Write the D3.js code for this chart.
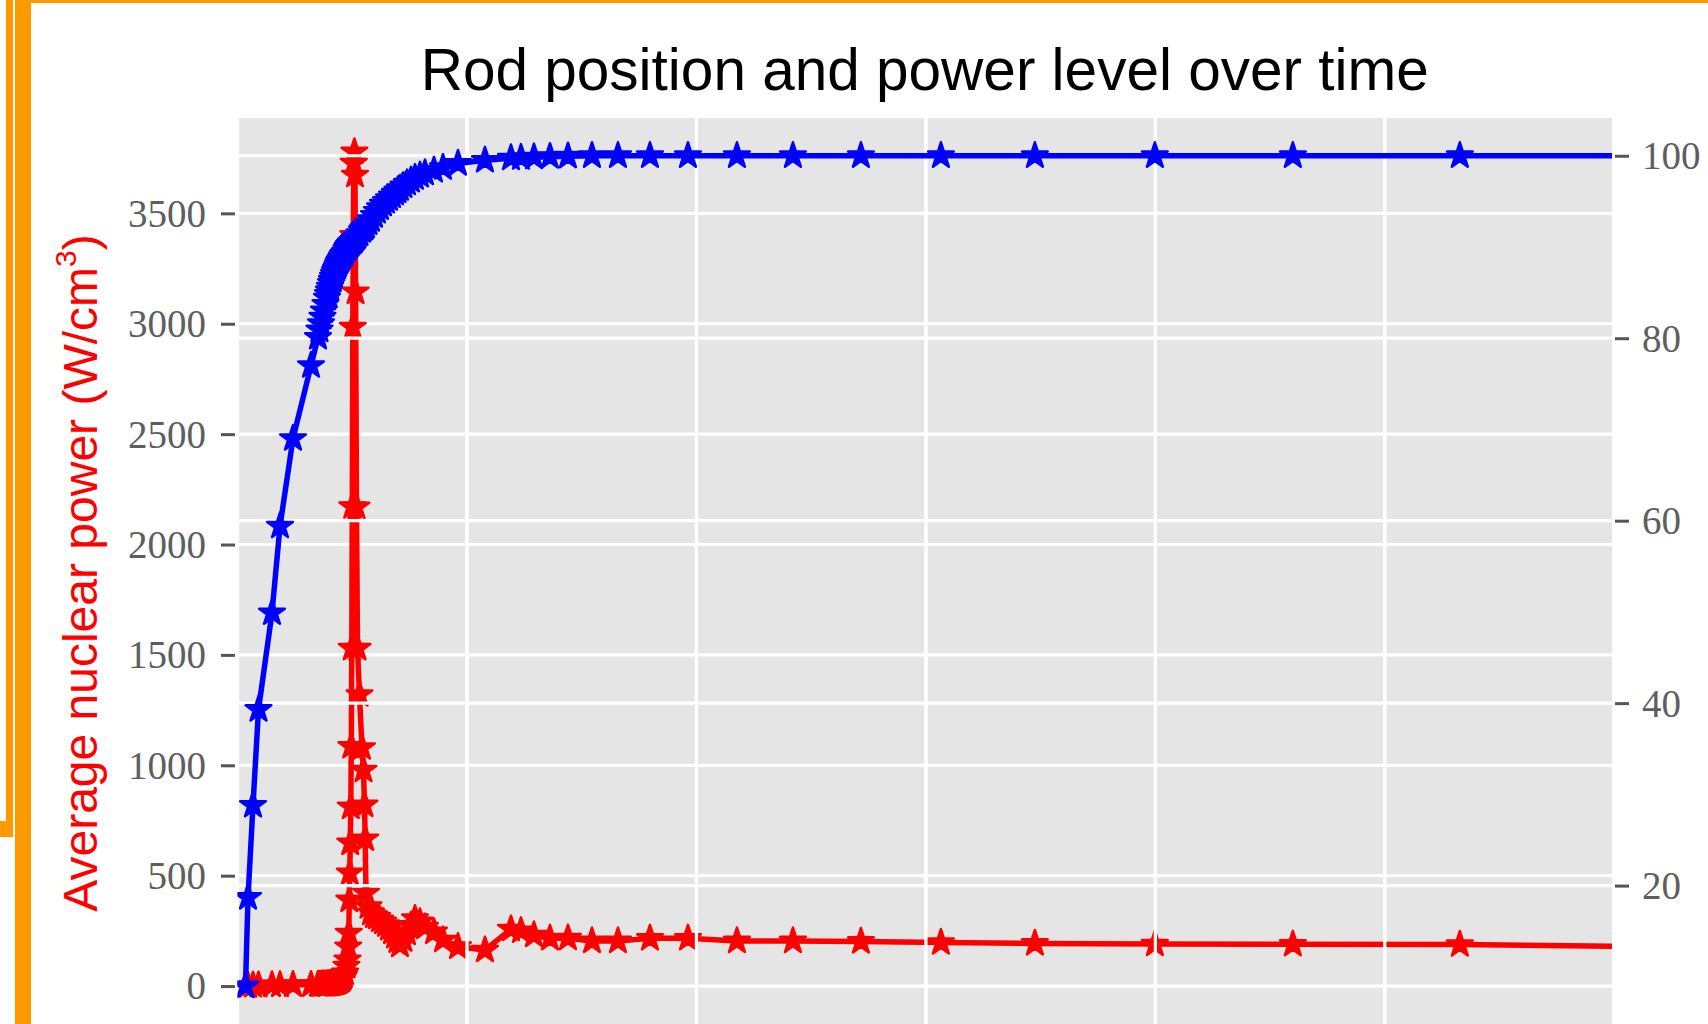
<!DOCTYPE html>
<html>
<head>
<meta charset="utf-8">
<script src="https://cdn.jsdelivr.net/npm/d3@7"></script>
<style>
  html, body { margin: 0; padding: 0; background: #ffffff; overflow: hidden; }
</style>
</head>
<body>
<svg id="chart" width="1708" height="1024"></svg>
<script>
// Simulation output: time (s), control rod position (%), average nuclear power (W/cm^3)
const timeSeconds = [
  0.349, 0.458, 0.675, 0.915, 1.503, 1.852, 2.418, 3.203,
  3.508, 3.573, 3.638, 3.704, 3.769, 3.834, 3.900, 3.943, 3.987, 4.031,
  4.074, 4.118, 4.161, 4.205, 4.248, 4.292, 4.336, 4.379, 4.423, 4.466,
  4.510, 4.553, 4.597, 4.641, 4.684,
  4.749, 4.793, 4.824, 4.850, 4.871, 4.893, 4.915, 4.937, 4.959,
  4.980, 5.002, 5.024, 5.046, 5.068, 5.094, 5.120, 5.146, 5.185, 5.229,
  5.316, 5.425, 5.490, 5.534, 5.564, 5.599,
  5.708, 5.817, 5.948, 6.078, 6.209, 6.340, 6.471, 6.601, 6.732, 6.863,
  6.972, 7.081, 7.233, 7.386, 7.560, 7.734, 7.952, 8.170, 8.562, 8.954,
  9.608, 10.784, 11.917, 12.353, 12.919, 13.617, 14.401, 15.447, 16.580, 17.974,
  19.630, 21.765, 24.205, 27.168, 30.654, 34.749, 39.978, 45.991, 53.268, 61.765
];

const rodPosition = [
  9.0, 18.7, 28.8, 39.3, 49.9, 59.4, 69.0, 77.0,
  80.1, 80.9, 81.6, 82.3, 83.0, 83.7, 84.4, 84.8, 85.2, 85.6,
  86.0, 86.35, 86.7, 87.0, 87.3, 87.55, 87.8, 88.05, 88.3, 88.5,
  88.7, 88.9, 89.1, 89.25, 89.4,
  89.7, 89.9, 90.0, 90.1, 90.2, 90.25, 90.3, 90.4, 90.45,
  90.5, 90.55, 90.6, 90.65, 90.7, 90.8, 90.9, 90.95, 91.05, 91.2,
  91.45, 91.8, 92.0, 92.1, 92.2, 92.3,
  92.65, 93.0, 93.45, 93.9, 94.3, 94.7, 95.0, 95.3, 95.6, 95.9,
  96.15, 96.4, 96.7, 97.0, 97.3, 97.6, 97.85, 98.1, 98.4, 98.7,
  99.15, 99.5, 99.75, 99.8, 99.85, 99.9, 99.95, 100, 100, 100,
  100, 100, 100, 100, 100, 100, 100, 100, 100, 100
];

const avgPower = [
  0, 2, 3, 4, 5, 5, 6, 6,
  7, 7, 7, 8, 8, 8, 8, 9, 9, 10,
  10, 11, 12, 13, 14, 15, 17, 19, 21, 24,
  27, 32, 38, 47, 60,
  90, 118, 177, 240, 390, 512, 648, 811, 1086,
  1530, 2172, 2985, 3400, 3728, 3778, 3673, 3144, 2170, 1530,
  1320, 1080, 978, 820, 667, 421,
  360, 331, 318, 312, 300, 290, 278, 262, 245, 225,
  205, 186, 210, 240, 275, 305, 290, 267, 245, 208,
  178, 163, 258, 250, 231, 216, 217, 204, 204, 216,
  216, 204, 204, 202, 197, 193, 190, 189, 188, 178
];

const powerTicks = [0, 500, 1000, 1500, 2000, 2500, 3000, 3500];
const rodTicks = [20, 40, 60, 80, 100];
const timeTicks = [0, 10, 20, 30, 40, 50];

const chartTitle = "Rod position and power level over time";
const powerLabel = "Average nuclear power (W/cm";

// ---- layout ----
const plot = { left: 237.5, right: 1612, top: 118, bottom: 1028 };
const svg = d3.select("#chart");

const x = d3.scaleLinear().domain([0, 59.9]).range([plot.left, plot.right]);
const yPower = d3.scaleLinear().domain([-190, 3932]).range([plot.bottom, plot.top]);
const yRod = d3.scaleLinear().domain([4.39, 104.14]).range([plot.bottom, plot.top]);

const rows = timeSeconds.map((t, i) => ({ t, rod: rodPosition[i], power: avgPower[i] }));

// ---- orange frame strips on the left and top ----
const orange = "#ff9900";
const frame = svg.append("g");
frame.append("rect").attr("x", 6).attr("y", 0).attr("width", 7).attr("height", 837).attr("fill", orange);
frame.append("rect").attr("x", 0).attr("y", 821).attr("width", 13).attr("height", 16).attr("fill", orange);
frame.append("rect").attr("x", 15).attr("y", 0).attr("width", 16).attr("height", 1024).attr("fill", orange);
frame.append("rect").attr("x", 31).attr("y", 0).attr("width", 1677).attr("height", 3).attr("fill", orange);

// ---- plot background ----
svg.append("defs").append("clipPath").attr("id", "plotClip")
  .append("rect")
  .attr("x", plot.left).attr("y", plot.top)
  .attr("width", plot.right - plot.left).attr("height", plot.bottom - plot.top);

svg.append("rect")
  .attr("x", plot.left).attr("y", plot.top)
  .attr("width", plot.right - plot.left).attr("height", plot.bottom - plot.top)
  .attr("fill", "#e5e5e5");

function drawGrid(yScale, yTicks) {
  const g = svg.append("g").attr("clip-path", "url(#plotClip)")
    .attr("stroke", "#ffffff").attr("stroke-width", 3.2);
  g.selectAll("line.h").data(yTicks).join("line").attr("class", "h")
    .attr("x1", plot.left).attr("x2", plot.right)
    .attr("y1", d => yScale(d)).attr("y2", d => yScale(d));
  g.selectAll("line.v").data(timeTicks).join("line").attr("class", "v")
    .attr("y1", plot.top).attr("y2", plot.bottom)
    .attr("x1", d => x(d)).attr("x2", d => x(d));
}

const starSize = (r) => r * r / 0.8908130915292852;
const star = d3.symbol().type(d3.symbolStar).size(starSize(13.5));

function drawSeries(yScale, key, color) {
  const g = svg.append("g").attr("clip-path", "url(#plotClip)");
  g.append("path")
    .datum(rows)
    .attr("fill", "none")
    .attr("stroke", color)
    .attr("stroke-width", 5.5)
    .attr("stroke-linejoin", "round")
    .attr("d", d3.line().x(d => x(d.t)).y(d => yScale(d[key])));
  g.selectAll("path.marker").data(rows).join("path")
    .attr("class", "marker")
    .attr("d", star)
    .attr("transform", d => `translate(${x(d.t)},${yScale(d[key])})`)
    .attr("fill", color)
    .attr("stroke", color)
    .attr("stroke-width", 2.5)
    .attr("stroke-linejoin", "round");
}

// primary axes: power grid, then the power trace
drawGrid(yPower, powerTicks);
drawSeries(yPower, "power", "#ff0000");
// twin axes: rod grid drawn over, then the rod trace
drawGrid(yRod, rodTicks);
drawSeries(yRod, "rod", "#0000ff");

// ---- axes ----
const tickColor = "#5e5e5e";
const tickFont = "'Liberation Serif', 'DejaVu Serif', serif";

const leftAxis = svg.append("g")
  .attr("transform", `translate(${plot.left - 2.5},0)`)
  .call(d3.axisLeft(yPower).tickValues(powerTicks).tickSize(14).tickPadding(15).tickFormat(d3.format("d")));

const rightAxis = svg.append("g")
  .attr("transform", `translate(${plot.right + 3},0)`)
  .call(d3.axisRight(yRod).tickValues(rodTicks).tickSize(14).tickPadding(13).tickFormat(d3.format("d")));

[leftAxis, rightAxis].forEach(a => {
  a.select(".domain").remove();
  a.selectAll(".tick line").attr("stroke", "#555555").attr("stroke-width", 3);
  a.selectAll(".tick text")
    .attr("fill", tickColor)
    .attr("font-family", tickFont)
    .attr("font-size", 39)
    .attr("dy", "0.33em");
});

// ---- title ----
svg.append("text")
  .attr("x", (plot.left + plot.right) / 2)
  .attr("y", 90)
  .attr("text-anchor", "middle")
  .attr("font-family", "'Liberation Sans', Arial, sans-serif")
  .attr("font-size", 58.5)
  .attr("fill", "#000000")
  .text(chartTitle);

// ---- left axis label ----
const ylab = svg.append("text")
  .attr("transform", `translate(97,${(plot.top + plot.bottom) / 2}) rotate(-90)`)
  .attr("text-anchor", "middle")
  .attr("font-family", "'Liberation Sans', Arial, sans-serif")
  .attr("font-size", 48)
  .attr("fill", "#ff0000");
ylab.append("tspan").text(powerLabel);
ylab.append("tspan").attr("font-size", 30).attr("dy", "-0.7em").text("3");
ylab.append("tspan").attr("dy", "0.44em").text(")");
</script>
</body>
</html>
